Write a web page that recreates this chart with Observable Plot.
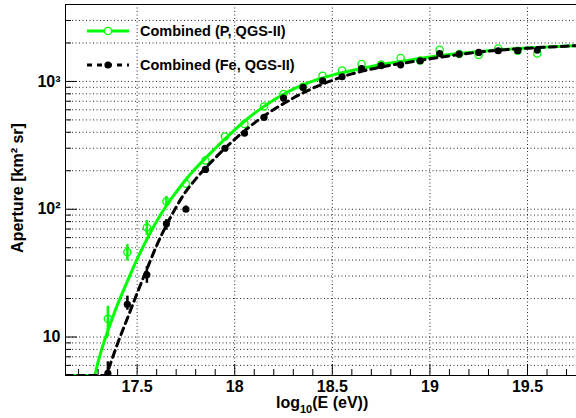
<!DOCTYPE html>
<html><head><meta charset="utf-8">
<script src="https://cdn.jsdelivr.net/npm/d3@7"></script>
<script src="https://cdn.jsdelivr.net/npm/@observablehq/plot@0.6"></script>
<style>body{margin:0;background:#fff}#chart{width:576px;height:418px}</style>
</head><body><div id="chart"></div>
<script>
// ---- data ----
const energies = [17.35,17.45,17.55,17.65,17.75,17.85,17.95,18.05,18.15,18.25,18.35,18.45,18.55,18.65,18.75,18.85,18.95,19.05,19.15,19.25,19.35,19.45,19.55];
const apertureP = [13.9,46,72,115,158,241,371,464,638,797,910,1109,1220,1368,1354,1524,1460,1770,1637,1608,1811,1738,1655];
const apertureFe = [5.2,18,30.7,77,100,205,300,393,523,741,898,1012,1088,1263,1330,1350,1452,1654,1637,1686,1738,1738,1760];

const errEnergiesP = [17.35,17.45,17.55,17.65];
const errPLow = [10,39.3,62.3,105];
const errPHigh = [17.4,53,81.6,126];
const errEnergiesFe = [17.35,17.45,17.55,17.65,17.75];
const errFeLow = [4,16.2,26.3,68.6,95];
const errFeHigh = [6.4,20.9,35.6,83,106];

const fitPX = [17.133,17.28,17.30,17.325,17.35,17.40,17.45,17.50,17.55,17.60,17.65,17.70,17.75,17.80,17.85,17.90,17.95,18.00,18.05,18.10,18.15,18.20,18.25,18.30,18.35,18.40,18.45,18.50,18.55,18.60,18.70,18.80,18.90,19.00,19.10,19.20,19.30,19.40,19.50,19.60,19.70,19.751];
const fitPY = [5,5,6.4,8.6,11.2,18,27.3,40.7,58.2,80.4,107,136,171,209,251,299,355,417,488,562,638,716,794,871,940,1005,1065,1120,1170,1218,1310,1395,1475,1553,1622,1683,1738,1786,1828,1862,1892,1905];
const fitFeX = [17.133,17.34,17.36,17.40,17.45,17.50,17.55,17.60,17.65,17.70,17.75,17.80,17.85,17.90,17.95,18.00,18.05,18.10,18.15,18.20,18.25,18.30,18.35,18.40,18.45,18.50,18.55,18.60,18.70,18.80,18.90,19.00,19.10,19.20,19.30,19.40,19.50,19.60,19.70,19.751];
const fitFeY = [5,5,6.0,8.9,14,22,34,52,75,104,138,172,210,252,300,352,410,472,537,603,670,742,815,885,953,1019,1085,1145,1250,1340,1420,1505,1585,1660,1726,1778,1820,1858,1888,1905];

const xTicks = [17.5,18,18.5,19,19.5];
const xMinorTicks = [17.2,17.3,17.4,17.6,17.7,17.8,17.9,18.1,18.2,18.3,18.4,18.6,18.7,18.8,18.9,19.1,19.2,19.3,19.4,19.6,19.7];
const yMajorTicks = [10,100,1000];
const yTickLabels = ["10","10²","10³"];
const yMinorTicks = [5,6,7,8,9,20,30,40,50,60,70,80,90,200,300,400,500,600,700,800,900,2000,3000];
const xDomain = [17.133,19.751];
const yDomain = [5,4000];
const seriesNames = ["Combined (P, QGS-II)","Combined (Fe, QGS-II)"];
const xTitle = ["log","10","(E (eV))"];
const yTitle = "Aperture [km² sr]";

// ---- tables ----
const pts = energies.map((e,i)=>({e, p: apertureP[i], fe: apertureFe[i]}));
const errP = errEnergiesP.map((e,i)=>({e, lo: errPLow[i], hi: errPHigh[i]}));
const errFe = errEnergiesFe.map((e,i)=>({e, lo: errFeLow[i], hi: errFeHigh[i]}));
const fitP = fitPX.map((x,i)=>({x, y: fitPY[i]}));
const fitFe = fitFeX.map((x,i)=>({x, y: fitFeY[i]}));

const W = 576, H = 418, ML = 65, MR = 0, MT = 4, MB = 43;
const frameW = W - ML - MR, frameH = H - MT - MB;
const GREEN = "#00ff00";
const FONT = "'Liberation Sans', Arial, Helvetica, sans-serif";

const svg = Plot.plot({
  width: W, height: H,
  marginLeft: ML, marginRight: MR, marginTop: MT, marginBottom: MB,
  style: {fontFamily: FONT, background: "white", color: "black", overflow: "visible"},
  x: {domain: xDomain, label: null},
  y: {type: "log", domain: yDomain, label: null},
  marks: [
    // grid
    Plot.ruleY([...yMajorTicks, ...yMinorTicks], {stroke: "#000", strokeOpacity: 0.85, strokeDasharray: "1,2.5"}),
    Plot.ruleX(xTicks, {stroke: "#000", strokeOpacity: 0.85, strokeDasharray: "1,2.5"}),
    // fits + points
    Plot.line(fitP, {x: "x", y: "y", stroke: GREEN, strokeWidth: 3, curve: "monotone-x", clip: true}),
    Plot.ruleX(errP, {x: "e", y1: "lo", y2: "hi", stroke: GREEN, strokeWidth: 2.5, clip: true}),
    Plot.dot(pts, {x: "e", y: "p", r: 3.6, stroke: GREEN, strokeWidth: 1.3, fill: "none", clip: true}),
    Plot.line(fitFe, {x: "x", y: "y", stroke: "#000", strokeWidth: 3, strokeDasharray: "7,5", curve: "monotone-x", clip: true}),
    Plot.ruleX(errFe, {x: "e", y1: "lo", y2: "hi", stroke: "#000", strokeWidth: 2.5, clip: true}),
    Plot.dot(pts, {x: "e", y: "fe", r: 3.6, fill: "#000", stroke: "none", clip: true}),
    // frame (left, bottom, top)
    Plot.ruleX([xDomain[0]], {stroke: "#000", strokeWidth: 1}),
    Plot.ruleY([yDomain[0]], {stroke: "#000", strokeWidth: 1}),
    Plot.ruleY([yDomain[1]], {stroke: "#000", strokeWidth: 1}),
    // inward ticks
    Plot.ruleX(xTicks, {stroke: "#000", insetTop: frameH - 11}),
    Plot.ruleX(xMinorTicks, {stroke: "#000", insetTop: frameH - 6}),
    Plot.ruleY(yMajorTicks, {stroke: "#000", insetRight: frameW - 12}),
    Plot.ruleY(yMinorTicks, {stroke: "#000", insetRight: frameW - 6}),
    // tick labels
    Plot.axisX(xTicks, {tickSize: 0, tickPadding: 5, tickFormat: d => String(d), fontSize: 16, fontWeight: "bold"}),
    Plot.axisY(yMajorTicks, {tickSize: 0, tickPadding: 5, tickFormat: d => yTickLabels[yMajorTicks.indexOf(d)], fontSize: 16, fontWeight: "bold"})
  ]
});

const s = d3.select(svg);
// y title
s.append("text")
  .attr("transform", `translate(23,188) rotate(-90)`)
  .attr("text-anchor", "middle")
  .attr("font-family", FONT).attr("font-weight", "bold").attr("font-size", 16)
  .attr("fill", "#000")
  .text(yTitle);
// x title with subscript
const xt = s.append("text")
  .attr("x", 276).attr("y", 408)
  .attr("text-anchor", "start")
  .attr("font-family", FONT).attr("font-weight", "bold").attr("font-size", 16)
  .attr("fill", "#000");
xt.append("tspan").text(xTitle[0]);
xt.append("tspan").attr("font-size", 11).attr("dy", 5).text(xTitle[1]);
xt.append("tspan").attr("dy", -5).text(xTitle[2]);

// legend
const lg = s.append("g").attr("font-family", FONT).attr("font-weight", "bold").attr("font-size", 14.5)
  .attr("text-anchor", "start").attr("fill", "#000");
lg.append("line").attr("x1", 87).attr("x2", 129).attr("y1", 31).attr("y2", 31)
  .attr("stroke", GREEN).attr("stroke-width", 3);
lg.append("circle").attr("cx", 108).attr("cy", 31).attr("r", 3.6)
  .attr("fill", "white").attr("stroke", GREEN).attr("stroke-width", 1.3);
lg.append("text").attr("x", 140).attr("y", 31).attr("dy", "0.36em").text(seriesNames[0]);
lg.append("line").attr("x1", 87).attr("x2", 129).attr("y1", 65).attr("y2", 65)
  .attr("stroke", "#000").attr("stroke-width", 3).attr("stroke-dasharray", "5,5");
lg.append("circle").attr("cx", 108).attr("cy", 65).attr("r", 3.6).attr("fill", "#000");
lg.append("text").attr("x", 140).attr("y", 65).attr("dy", "0.36em").text(seriesNames[1]);

document.getElementById("chart").appendChild(svg);
</script>
</body></html>
